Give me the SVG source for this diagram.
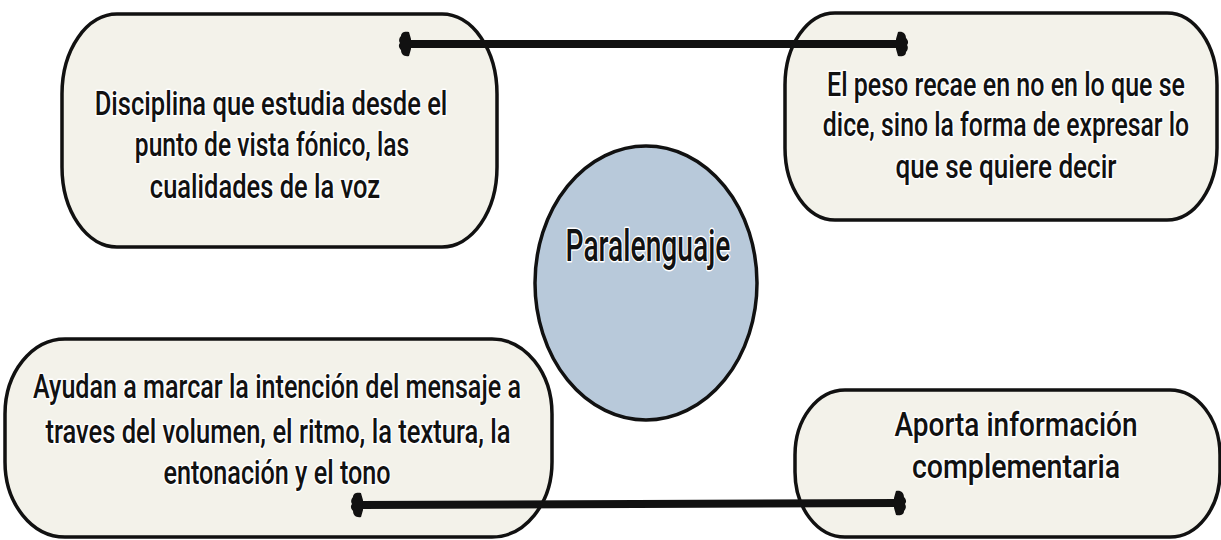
<svg xmlns="http://www.w3.org/2000/svg" width="1221" height="540" viewBox="0 0 1221 540">
<defs>
<style>
.box{fill:#f3f2ea;stroke:#111;stroke-width:3.5}
.t{font-family:Roboto,"Liberation Sans",sans-serif;font-weight:500;font-size:33px;fill:#111;text-anchor:middle;stroke:#fff;stroke-width:3;paint-order:stroke;stroke-linejoin:round}
.big{font-size:44px}
.conn{stroke:#111;stroke-width:8;fill:none}
</style>
<marker id="cap" viewBox="-14 -16 28 32" refX="0" refY="0" markerWidth="28" markerHeight="32" markerUnits="userSpaceOnUse" orient="auto-start-reverse">
<path d="M-3,-5 L-1,-12 C4,-13 7,-10 7,-6 C9,-4 10,-1 8,1 C10,4 8,7 7,8 C7,12 3,13 -1,12 L-3,5 Z" fill="#111"/>
</marker>
</defs>
<rect width="1221" height="540" fill="#ffffff"/>
<g id="node-tl">
<rect class="box" x="62" y="14" width="435" height="233" rx="55" ry="80"/>
<text class="t" transform="translate(271,0) scale(0.76,1)" x="0" y="115" textLength="464" lengthAdjust="spacingAndGlyphs">Disciplina que estudia desde el</text>
<text class="t" transform="translate(272,0) scale(0.76,1)" x="0" y="156" textLength="361" lengthAdjust="spacingAndGlyphs">punto de vista fónico, las</text>
<text class="t" transform="translate(265,0) scale(0.76,1)" x="0" y="198" textLength="303" lengthAdjust="spacingAndGlyphs">cualidades de la voz</text>
</g>
<g id="node-tr">
<rect class="box" x="785" y="13" width="432" height="207" rx="50" ry="72"/>
<text class="t" transform="translate(1006,0) scale(0.76,1)" x="0" y="96" textLength="471" lengthAdjust="spacingAndGlyphs">El peso recae en no en lo que se</text>
<text class="t" transform="translate(1006,0) scale(0.76,1)" x="0" y="136" textLength="482" lengthAdjust="spacingAndGlyphs">dice, sino la forma de expresar lo</text>
<text class="t" transform="translate(1006,0) scale(0.76,1)" x="0" y="178" textLength="291" lengthAdjust="spacingAndGlyphs">que se quiere decir</text>
</g>
<g id="node-bl">
<rect class="box" x="5" y="339" width="547" height="198" rx="60" ry="75"/>
<text class="t" transform="translate(277,0) scale(0.76,1)" x="0" y="398" textLength="642" lengthAdjust="spacingAndGlyphs">Ayudan a marcar la intención del mensaje a</text>
<text class="t" transform="translate(278,0) scale(0.76,1)" x="0" y="443" textLength="612" lengthAdjust="spacingAndGlyphs">traves del volumen, el ritmo, la textura, la</text>
<text class="t" transform="translate(277,0) scale(0.76,1)" x="0" y="484" textLength="299" lengthAdjust="spacingAndGlyphs">entonación y el tono</text>
</g>
<g id="node-br">
<rect class="box" x="795" y="390" width="425" height="147" rx="50" ry="65"/>
<text class="t" transform="translate(1016,0) scale(0.76,1)" x="0" y="436" textLength="320" lengthAdjust="spacingAndGlyphs">Aporta información</text>
<text class="t" transform="translate(1016,0) scale(0.76,1)" x="0" y="478" textLength="274" lengthAdjust="spacingAndGlyphs">complementaria</text>
</g>
<g id="node-center">
<ellipse cx="646" cy="283" rx="111" ry="137" fill="#b8c9da" stroke="#111" stroke-width="3.5"/>
<text class="t big" transform="translate(648,0) scale(0.76,1)" x="0" y="261" textLength="217" lengthAdjust="spacingAndGlyphs">Paralenguaje</text>
</g>
<g id="connectors">
<line class="conn" x1="408" y1="44" x2="899" y2="44" marker-start="url(#cap)" marker-end="url(#cap)"/>
<line class="conn" x1="360" y1="505" x2="897" y2="503" marker-start="url(#cap)" marker-end="url(#cap)"/>
</g>
</svg>
